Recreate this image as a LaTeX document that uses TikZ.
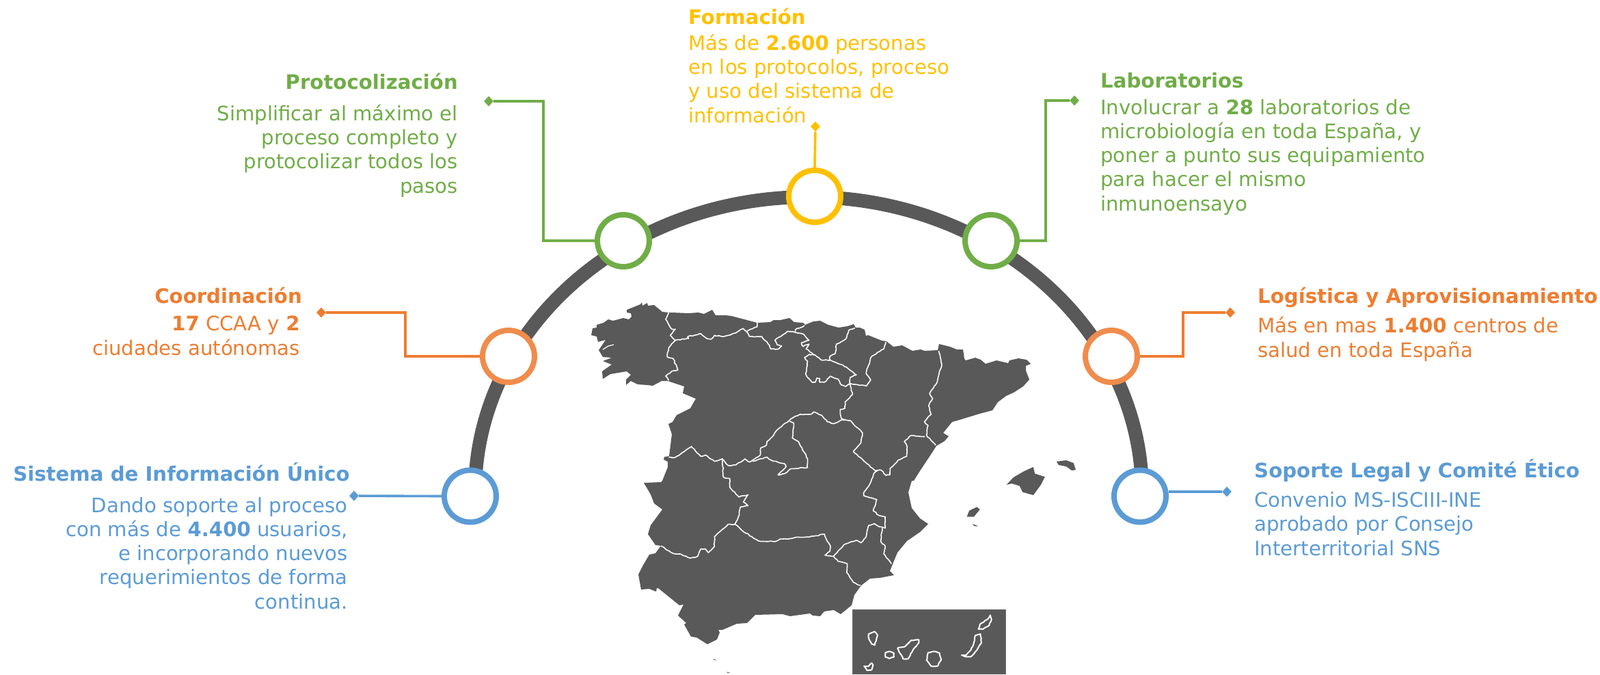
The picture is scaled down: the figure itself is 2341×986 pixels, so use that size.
\documentclass[tikz,border=0pt]{standalone}
\usepackage{fontspec}
\setmainfont{DejaVu Sans}
\usetikzlibrary{shapes.geometric,decorations.pathmorphing}
\definecolor{cgreen}{HTML}{70AD47}
\definecolor{corange}{HTML}{ED7D31}
\definecolor{corangec}{HTML}{F08C4C}
\definecolor{cblue}{HTML}{5B9BD5}
\definecolor{cyellow}{HTML}{FFC000}
\definecolor{cgrey}{HTML}{595959}
\tikzset{
 ringnode/.style={circle,draw=#1,fill=white,line width=8pt,minimum size=76pt,inner sep=0pt},
 tip/.style={diamond,fill=#1,inner sep=0pt,minimum width=14pt,minimum height=15pt},
 link/.style={draw=#1,line width=3.6pt,line join=miter},
 txt/.style={inner sep=0pt,text=#1,font=\fontsize{29.2}{35.2}\selectfont},
 lblL/.style={txt=#1,anchor=base east,align=right},
 lblR/.style={txt=#1,anchor=base west,align=left},
 border/.style={draw=white,line width=1.6pt,line join=round,decorate,decoration={random steps,segment length=3.5pt,amplitude=0.7pt}},
 isle/.style={draw=white,line width=2pt,line join=round,decorate,decoration={random steps,segment length=3pt,amplitude=0.5pt}},
 land/.style={fill=cgrey},
}
\begin{document}
\begin{tikzpicture}[x=1pt,y=-1pt]
\useasboundingbox (0,0) rectangle (2341,986);
% arc
\draw[cgrey,line width=20pt] (695,720) arc[start angle=180,end angle=0,x radius=488,y radius=-432];
% mainland coast
\fill[land] (865,490)--(867,480)--(873,479)--(873,475)--(883,472)--(890,467)--(897,469)--(912,465)--(920,467)--(924,463)--(923,458)--(917,457)--(917,453)--(927,449)--(937,445)--(939,442)--(940,447)--(947,443)--(948,447)--(957,446)--(969,456)--(979,457)--(983,457)--(1007,458)--(1022,457)--(1030,459)--(1042,453)--(1047,461)--(1062,461)--(1070,462)--(1108,472)--(1127,471)--(1132,468)--(1142,468)--(1155,465)--(1162,471)--(1175,472)--(1178,475)--(1190,470)--(1200,469)--(1212,475)--(1227,479)--(1240,477)--(1249,474)--(1252,479)--(1258,479)--(1265,482)--(1267,491)--(1270,490)--(1290,498)--(1297,499)--(1307,507)--(1320,505)--(1335,513)--(1347,511)--(1353,513)--(1372,512)--(1374,503)--(1390,507)--(1400,511)--(1409,511)--(1411,525)--(1413,527)--(1427,523)--(1435,526)--(1442,532)--(1458,527)--(1475,531)--(1477,527)--(1490,524)--(1502,526)--(1508,532)--(1501,535)--(1501,542)--(1506,555)--(1497,565)--(1483,574)--(1472,579)--(1460,588)--(1452,600)--(1433,605)--(1407,613)--(1393,617)--(1380,633)--(1388,638)--(1382,645)--(1370,652)--(1363,663)--(1347,687)--(1337,703)--(1334,703)--(1329,720)--(1334,743)--(1346,758)--(1358,766)--(1346,778)--(1327,791)--(1313,808)--(1306,825)--(1302,835)--(1308,841)--(1287,845)--(1273,846)--(1260,856)--(1250,870)--(1246,885)--(1230,898)--(1220,892)--(1206,894)--(1200,901)--(1189,900)--(1185,897)--(1156,901)--(1145,898)--(1105,899)--(1093,911)--(1078,912)--(1057,921)--(1051,921)--(1053,925)--(1049,935)--(1035,942)--(1019,932)--(1011,931)--(1001,913)--(1004,911)--(992,900)--(1000,884)--(994,885)--(963,860)--(967,859)--(961,860)--(960,865)--(950,861)--(938,862)--(934,840)--(940,828)--(950,811)--(959,809)--(967,798)--(959,797)--(948,781)--(952,768)--(969,745)--(957,736)--(952,723)--(942,706)--(967,705)--(969,703)--(977,683)--(977,675)--(971,672)--(972,668)--(979,667)--(983,635)--(978,620)--(984,617)--(990,607)--(1010,597)--(1018,583)--(999,575)--(1001,565)--(977,557)--(968,557)--(955,564)--(947,563)--(933,562)--(923,557)--(916,563)--(916,555)--(923,548)--(917,543)--(893,547)--(882,554)--(881,543)--(895,533)--(882,528)--(895,523)--(882,522)--(876,512)--(886,497)--(875,500)--(873,492)--cycle;
\draw[white,line width=1.3pt] (882,511)--(890,506)--(898,504);
% map details, in units of the crop
\begin{scope}[shift={(840,420)},x=0.44643pt,y=-0.36100pt]
\fill[land] (1417,800)--(1440,770)--(1475,745)--(1505,728)--(1510,755)--(1543,768)--(1530,800)--(1505,842)--(1470,830)--(1460,805)--(1435,795)--cycle;
\fill[land] (1287,930)--(1295,905)--(1320,890)--(1330,900)--(1310,930)--cycle;
\fill[land] (1305,958)--(1325,968)--(1312,968)--cycle;
\fill[land] (1581,706)--(1613,701)--(1637,712)--(1644,740)--(1631,742)--(1613,726)--(1588,720)--cycle;
\fill[land] (455,1505)--(467,1510)--(460,1511)--cycle;
\fill[land] (500,1558)--(512,1562)--(503,1563)--cycle;
\draw[border] (310,103)--(300,130)--(320,170)--(332,170)--(315,195)--(332,215)--(310,245)--(305,282)--(325,290)--(340,335)--(320,340)--(300,360)--(310,378);
\draw[border] (332,215)--(375,208)--(372,200)--(415,188)--(435,208)--(450,210)--(460,195)--(490,200)--(530,185)--(553,167)--(565,180)--(575,200)--(615,200)--(640,235)--(645,250)--(670,250)--(680,238)--(665,232)--(658,215)--(700,178)--(725,183)--(725,172)--(755,155);
\draw[border] (600,142)--(600,160)--(565,180);
\draw[border] (725,183)--(752,190)--(770,215)--(745,225)--(750,240)--(770,230)--(760,250)--(790,275)--(810,295)--(840,295)--(880,315)--(915,345)--(925,355)--(905,365)--(903,395);
\draw[border] (920,165)--(900,175)--(890,210)--(860,230)--(855,270)--(838,280)--(838,295);
\draw[border] (790,275)--(770,272)--(755,285)--(765,300)--(760,355)--(780,385)--(790,385)--(795,368)--(805,370)--(805,385)--(820,385)--(840,360)--(865,372)--(875,395)--(890,402)--(905,390);
\draw[border] (1022,222)--(1015,250)--(975,280)--(960,330)--(957,350)--(972,375)--(958,400)--(930,395)--(905,390)--(912,435)--(888,465)--(888,490)--(872,495)--(875,530)--(885,540);
\draw[border] (885,535)--(850,553)--(830,545)--(810,518)--(785,505)--(775,515)--(740,515)--(715,530)--(705,540)--(668,575)--(650,605)--(632,625)--(630,640)--(612,650)--(610,680)--(585,700)--(575,708)--(560,695)--(530,720)--(505,722)--(485,695)--(460,705)--(430,680)--(415,685)--(385,645)--(345,680)--(330,690)--(310,688);
\draw[border] (485,695)--(490,770)--(510,775)--(510,810)--(540,850)--(570,840)--(555,870)--(570,885)--(545,890)--(540,925)--(527,960)--(505,960)--(460,1010)--(460,1050)--(440,1075)--(430,1060)--(415,1060)--(405,1090)--(380,1097)--(345,1080)--(325,1078)--(305,1065)--(285,1048);
\draw[border] (527,960)--(550,985)--(605,1028)--(660,1030)--(675,1020)--(700,1020)--(710,1018)--(730,1012)--(770,1012)--(820,1000)--(830,1030)--(840,1048)--(838,1070)--(822,1085)--(850,1090)--(865,1110)--(895,1120)--(893,1155)--(915,1195)--(938,1208);
\draw[border] (850,1090)--(885,1042)--(925,1025)--(940,1035)--(955,1015)--(965,965)--(985,958)--(1000,970)--(1020,975)--(1020,930)--(1000,925)--(980,905)--(992,860)--(950,845)--(950,830)--(970,795)--(985,750)--(995,742);
\draw[border] (1010,975)--(1005,1030)--(1020,1050)--(1015,1080)--(1040,1120);
\draw[border] (885,535)--(905,540)--(945,590)--(940,630)--(915,665)--(960,715)--(985,742)--(1005,740)--(1022,762)--(1035,760)--(1035,735)--(1062,700)--(1090,685)--(1090,640)--(1082,625)--(1105,600)--(1150,605);
\draw[border] (1195,258)--(1205,310)--(1190,385)--(1165,430)--(1175,450)--(1162,480)--(1170,515)--(1148,545)--(1160,560)--(1155,600)--(1185,640);
\draw[border] (705,540)--(720,550)--(715,610)--(735,625)--(755,670)--(765,695)--(765,730)--(710,735)--(690,755)--(668,760)--(695,725)--(690,715)--(645,700)--(632,688)--(610,695)--(585,705);
% inset
\fill[land] (912,1305) rectangle (1415,1568);
\draw[draw=gray!70!cgrey,line width=1pt] (912,1568)--(912,1305)--(1415,1305)--(1415,1568);
\draw[isle] (965,1405)--(985,1395)--(995,1410)--(985,1450)--(975,1445)--(965,1420)--cycle;
\draw[isle] (950,1535)--(965,1535)--(975,1522)--(980,1530)--(975,1550)--(960,1552)--cycle;
\draw[isle] (1020,1480)--(1033,1475)--(1048,1482)--(1048,1498)--(1033,1504)--(1020,1498)--cycle;
\draw[isle] (1060,1462)--(1085,1455)--(1105,1430)--(1130,1428)--(1130,1440)--(1110,1470)--(1095,1505)--(1078,1505)--cycle;
\draw[isle] (1160,1480)--(1180,1475)--(1197,1480)--(1203,1510)--(1190,1535)--(1170,1535)--(1155,1510)--cycle;
\draw[isle] (1270,1490)--(1285,1490)--(1300,1470)--(1310,1440)--(1315,1410)--(1332,1405)--(1335,1440)--(1320,1470)--(1300,1497)--(1285,1497)--cycle;
\draw[isle] (1325,1385)--(1330,1365)--(1355,1345)--(1364,1328)--(1368,1345)--(1360,1370)--(1340,1385)--cycle;
\end{scope}
% rings
\node[ringnode=cblue]   (c1) at (688,725.5) {};
\node[ringnode=corangec](c2) at (744,521) {};
\node[ringnode=cgreen]  (c3) at (912,352) {};
\node[ringnode=cyellow] (c4) at (1192,287) {};
\node[ringnode=cgreen]  (c5) at (1450,352) {};
\node[ringnode=corangec](c6) at (1626,521) {};
\node[ringnode=cblue]   (c7) at (1668,725.5) {};
% tips
\node[tip=cblue]   (d1) at (518,725) {};
\node[tip=corange] (d2) at (470,457) {};
\node[tip=cgreen]  (d3) at (715,148) {};
\node[tip=cyellow] (d4) at (1193,185) {};
\node[tip=cgreen]  (d5) at (1572,147) {};
\node[tip=corange] (d6) at (1800,457) {};
\node[tip=cblue]   (d7) at (1795,719) {};
\coordinate (e2) at (593,457);
\coordinate (e3) at (795,148);
\coordinate (e5) at (1530,147);
\coordinate (e6) at (1731,457);
\coordinate (s7) at (1710,719);
\draw[link=cblue] (c1.west) -- (d1);
\draw[link=corange] (c2.west) -| (e2) -- (d2);
\draw[link=cgreen] (c3.west) -| (e3) -- (d3);
\draw[link=cyellow] (c4.north) -- (d4);
\draw[link=cgreen] (c5.east) -| (e5) -- (d5);
\draw[link=corange] (c6.east) -| (e6) -- (d6);
\draw[link=cblue] (s7) -- (d7);
% text (a block's anchor is the baseline of its last line)
\node[lblL=cgreen] (t3) at (670,130) {\textbf{Protocolización}};
\node[lblL=cgreen] (b3) at (670,282) {Simplificar al máximo el\\proceso completo y\\protocolizar todos los\\pasos};
\node[lblL=corange] (t2) at (442,443) {\textbf{Coordinación}};
\node[lblL=corange] (b2) at (439,519) {\textbf{17} CCAA y \textbf{2}\\ciudades autónomas};
\node[lblL=cblue] (t1) at (512,703) {\textbf{Sistema de Información Único}};
\node[lblL=cblue] (b1) at (509,890) {Dando soporte al proceso\\con más de \textbf{4.400} usuarios,\\e incorporando nuevos\\requerimientos de forma\\continua.};
\node[lblR=cyellow] (t4) at (1007,35) {\textbf{Formación}};
\node[lblR=cyellow] (b4) at (1007,179) {Más de \textbf{2.600} personas\\en los protocolos, proceso\\y uso del sistema de\\información};
\node[lblR=cgreen] (t5) at (1610,128) {\textbf{Laboratorios}};
\node[lblR=cgreen] (b5) at (1610,308) {Involucrar a \textbf{28} laboratorios de\\microbiología en toda España, y\\poner a punto sus equipamiento\\para hacer el mismo\\inmunoensayo};
\node[lblR=corange] (t6) at (1840,443) {\textbf{Logística y Aprovisionamiento}};
\node[lblR=corange] (b6) at (1840,522) {Más en mas \textbf{1.400} centros de\\salud en toda España};
\node[lblR=cblue] (t7) at (1835,698) {\textbf{Soporte Legal y Comité Ético}};
\node[lblR=cblue] (b7) at (1835,812) {Convenio MS-ISCIII-INE\\aprobado por Consejo\\Interterritorial SNS};
\end{tikzpicture}
\end{document}
